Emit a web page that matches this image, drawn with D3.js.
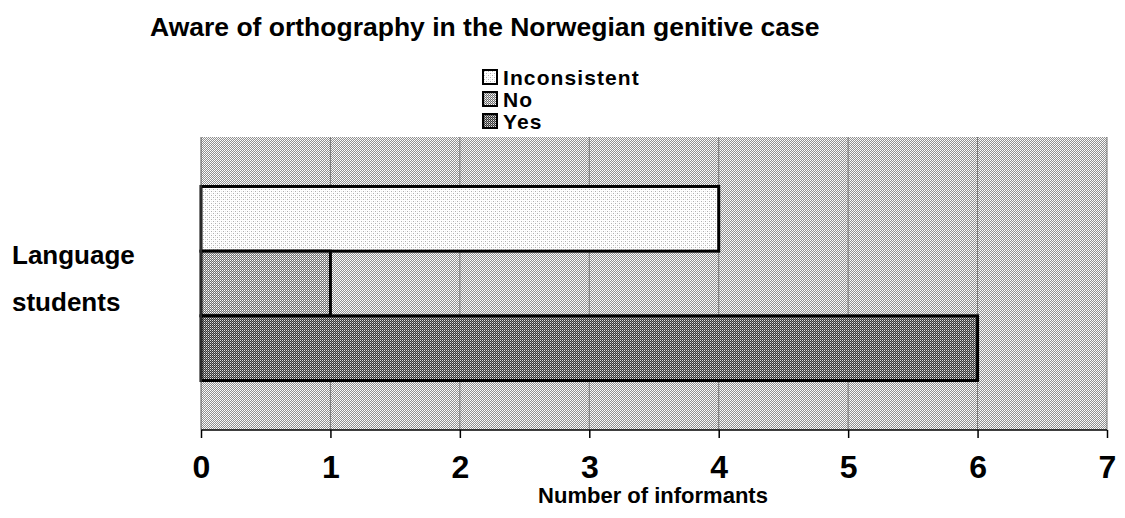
<!DOCTYPE html>
<html lang="en">
<head>
  <meta charset="UTF-8" />
  <title>Aware of orthography</title>
  <style>
    body { margin: 0; background: #fff; }
    text { font-family: "Liberation Sans", Arial, sans-serif; font-weight: bold; fill: #000; }
    .grid line { stroke: #777; stroke-width: 1; }
    .x-axis path, .x-axis line { stroke: #000; stroke-width: 1.5; }
    .x-axis text { font-size: 32px; }
  </style>
</head>
<body>
  <script src="https://d3js.org/d3.v7.min.js"></script>
  <script>
    const title = "Aware of orthography in the Norwegian genitive case";
    const category = ["Language", "students"];
    const seriesNames = ["Inconsistent", "No", "Yes"];
    const seriesValues = [4, 1, 6];
    const xTicks = [0, 1, 2, 3, 4, 5, 6, 7];
    const xLabel = "Number of informants";

    const width = 1125, height = 518;
    const plot = { left: 201, right: 1107, top: 137, bottom: 430 };

    const svg = d3.select("body").append("svg")
      .attr("width", width)
      .attr("height", height);

    // dither-like fills
    const defs = svg.append("defs");
    function dither(id, size, cells) {
      const p = defs.append("pattern")
        .attr("id", id)
        .attr("patternUnits", "userSpaceOnUse")
        .attr("width", size).attr("height", size);
      cells.forEach(c => {
        p.append("rect").attr("x", c[0]).attr("y", c[1])
          .attr("width", 1).attr("height", 1).attr("fill", c[2]);
      });
    }
    dither("bg", 2, [[0, 0, "#fff"], [1, 0, "#909090"], [0, 1, "#909090"], [1, 1, "#f4f4f4"]]);
    dither("fill0", 4, [
      [0, 0, "#fff"], [1, 0, "#fff"], [2, 0, "#fff"], [3, 0, "#fff"],
      [0, 1, "#fff"], [1, 1, "#b0b0b0"], [2, 1, "#fff"], [3, 1, "#e8e8e8"],
      [0, 2, "#fff"], [1, 2, "#fff"], [2, 2, "#fff"], [3, 2, "#fff"],
      [0, 3, "#fff"], [1, 3, "#e8e8e8"], [2, 3, "#fff"], [3, 3, "#b0b0b0"]
    ]);
    dither("fill1", 2, [[0, 0, "#fff"], [1, 0, "#707070"], [0, 1, "#707070"], [1, 1, "#c8c8c8"]]);
    dither("fill2", 2, [[0, 0, "#e0e0e0"], [1, 0, "#383838"], [0, 1, "#383838"], [1, 1, "#888"]]);

    const x = d3.scaleLinear().domain([0, 7]).range([plot.left, plot.right]);
    const yBand = d3.scaleBand().domain(["g"]).range([plot.top, plot.bottom]).paddingInner(0).paddingOuter(0.255);
    const ySub = d3.scaleBand().domain(seriesNames).range([0, yBand.bandwidth()]);

    // plot background
    svg.append("rect")
      .attr("x", plot.left).attr("y", plot.top)
      .attr("width", plot.right - plot.left).attr("height", plot.bottom - plot.top)
      .attr("fill", "url(#bg)");

    // vertical grid
    svg.append("g").attr("class", "grid")
      .selectAll("line").data(xTicks.slice(1)).enter().append("line")
      .attr("x1", d => x(d)).attr("x2", d => x(d))
      .attr("y1", plot.top).attr("y2", plot.bottom);

    // bars
    svg.append("g").selectAll("rect")
      .data(seriesNames.map((s, i) => ({ name: s, value: seriesValues[i], i: i })))
      .enter().append("rect")
      .attr("x", x(0))
      .attr("y", d => yBand("g") + ySub(d.name))
      .attr("width", d => x(d.value) - x(0))
      .attr("height", ySub.bandwidth())
      .attr("fill", d => "url(#fill" + d.i + ")")
      .attr("stroke", "#000")
      .attr("stroke-width", 3);

    // x axis
    const xAxis = svg.append("g").attr("class", "x-axis")
      .attr("transform", "translate(0," + plot.bottom + ")")
      .call(d3.axisBottom(x).tickValues(xTicks).tickSize(8).tickPadding(17).tickFormat(d3.format("d")));
    xAxis.select(".domain").attr("d", "M" + plot.left + ",0H" + plot.right);
    xAxis.selectAll("text").attr("fill", "#000");

    // left axis line
    svg.append("line")
      .attr("x1", plot.left).attr("x2", plot.left)
      .attr("y1", plot.top).attr("y2", plot.bottom)
      .attr("stroke", "#555").attr("stroke-width", 1);

    // category label
    svg.append("g").selectAll("text").data(category).enter().append("text")
      .attr("x", 12)
      .attr("y", (d, i) => 264 + i * 47)
      .attr("font-size", 26)
      .text(d => d);

    // x label
    svg.append("text")
      .attr("x", 653)
      .attr("y", 503)
      .attr("text-anchor", "middle")
      .attr("font-size", 22)
      .text(xLabel);

    // title
    svg.append("text")
      .attr("x", 150).attr("y", 36)
      .attr("font-size", 26.5)
      .text(title);

    // legend
    const legend = svg.append("g").selectAll("g").data(seriesNames).enter().append("g")
      .attr("transform", (d, i) => "translate(483," + (70 + i * 22) + ")");
    legend.append("rect")
      .attr("width", 14).attr("height", 14)
      .attr("fill", (d, i) => "url(#fill" + i + ")")
      .attr("stroke", "#000").attr("stroke-width", 2);
    legend.append("text")
      .attr("x", 20).attr("y", 15)
      .attr("font-size", 21)
      .attr("letter-spacing", 1.1)
      .text(d => d);
  </script>
</body>
</html>
